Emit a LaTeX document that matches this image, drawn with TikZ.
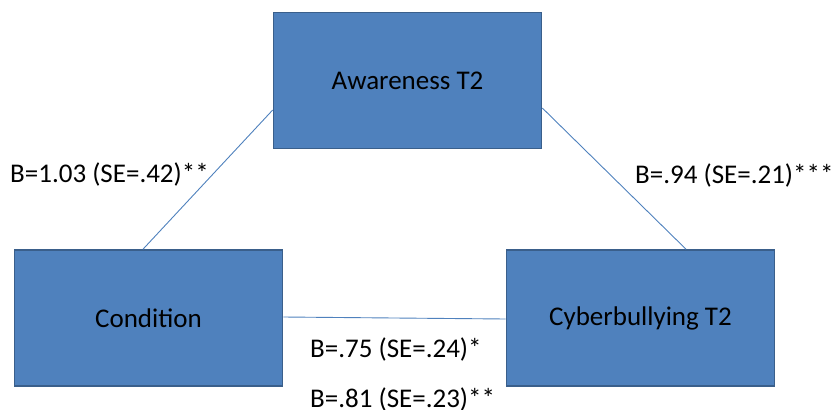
\documentclass[tikz,border=0pt]{standalone}
\usepackage{fontspec}
\setmainfont{Carlito}
\usetikzlibrary{calc}
\definecolor{boxfill}{HTML}{4F81BD}
\definecolor{boxedge}{HTML}{3A5F8B}
\definecolor{pathline}{HTML}{4F81BD}
\tikzset{
  varbox/.style={draw=boxedge, line width=1.6pt, fill=boxfill, minimum width=268pt,
    minimum height=136pt, inner sep=0pt, font=\fontsize{27}{32}\selectfont},
  pathlink/.style={draw=pathline, line width=0.9pt},
  coef/.style={anchor=base west, inner sep=0pt, font=\fontsize{27}{32}\selectfont}
}
\begin{document}
\begin{tikzpicture}[x=1pt,y=-1pt]
\useasboundingbox (0,0) rectangle (839,410);
% variables
\node[varbox] (aw) at (407.5,80.5) {Awareness T2};
\node[varbox] (cond) at (148.5,318) {Condition};
\node[varbox] (cyb) at (640.5,318) {Cyberbullying T2};
% paths between variables
\draw[pathlink] ($(aw.west)+(0,29.5)$) -- ($(cond.north)+(-5.5,0)$);
\draw[pathlink] ($(aw.east)+(0,27.5)$) -- ($(cyb.north)+(45.5,0)$);
\draw[pathlink] ($(cond.east)+(0,-1)$) -- ($(cyb.west)+(0,1)$);
% path coefficients
\node[coef] (c1) at (10,182) {B=1.03 (SE=.42)**};
\node[coef] (c2) at (635,183) {B=.94 (SE=.21)***};
\node[coef] (c3) at (310,357) {B=.75 (SE=.24)*};
\node[coef] (c4) at (310,407) {B=.81 (SE=.23)**};
\end{tikzpicture}
\end{document}
